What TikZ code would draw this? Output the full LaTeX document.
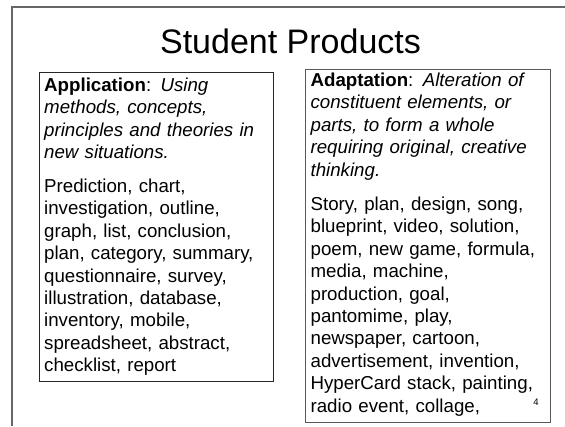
\documentclass[tikz,border=0pt]{standalone}
\usepackage{fontspec}
\setmainfont{Liberation Sans}
\usetikzlibrary{positioning}
\newcommand{\boxfont}{\fontsize{18.7}{22.4}\selectfont}
\newcommand{\titlefont}{\fontsize{34}{40}\selectfont}

\begin{document}
\begin{tikzpicture}[x=1pt,y=1pt]
  \tikzstyle{every node}+=[inner sep=0pt]
  \tikzstyle{box}=[draw, line width=1pt, anchor=north west]
  \tikzstyle{boxtext}=[align=left, font=\boxfont]
  \useasboundingbox (0,0) rectangle (565,-426);
  % slide frame
  \draw [black!60, line width=1.2pt] (12,-426) -- (12,-7) -- (565,-7);
  \node (title) at (290.5,-53) [anchor=base, font=\titlefont] {Student Products};
  % the two boxes
  \node (appbox) at (38.6,-72) [box, black!85, minimum width=234.4pt, minimum height=309pt] {};
  \node (adaptbox) at (305,-68.7) [box, black!65, minimum width=245pt, minimum height=353.5pt] {};
  \node (apptext) [boxtext, text width=224pt, below right=3.5pt and 5.4pt of appbox.north west] {%
    \strut\textbf{Application}: \textit{Using}\\
    \textit{methods, concepts,}\\
    \textit{principles and theories in}\\
    \textit{new situations.}\\[11.5pt]
    Prediction, chart,\\
    investigation, outline,\\
    graph, list, conclusion,\\
    plan, category, summary,\\
    questionnaire, survey,\\
    illustration, database,\\
    inventory, mobile,\\
    spreadsheet, abstract,\\
    checklist, report};
  \node (adapttext) [boxtext, text width=234pt, below right=2pt and 5.4pt of adaptbox.north west] {%
    \strut\textbf{Adaptation}: \textit{Alteration of}\\
    \textit{constituent elements, or}\\
    \textit{parts, to form a whole}\\
    \textit{requiring original, creative}\\
    \textit{thinking.}\\[12pt]
    Story, plan, design, song,\\
    blueprint, video, solution,\\
    poem, new game, formula,\\
    media, machine,\\
    production, goal,\\
    pantomime, play,\\
    newspaper, cartoon,\\
    advertisement, invention,\\
    HyperCard stack, painting,\\
    radio event, collage,};
  \node (slidenum) at (536,-402) {\fontsize{9.5}{11}\selectfont 4};
\end{tikzpicture}
\end{document}
